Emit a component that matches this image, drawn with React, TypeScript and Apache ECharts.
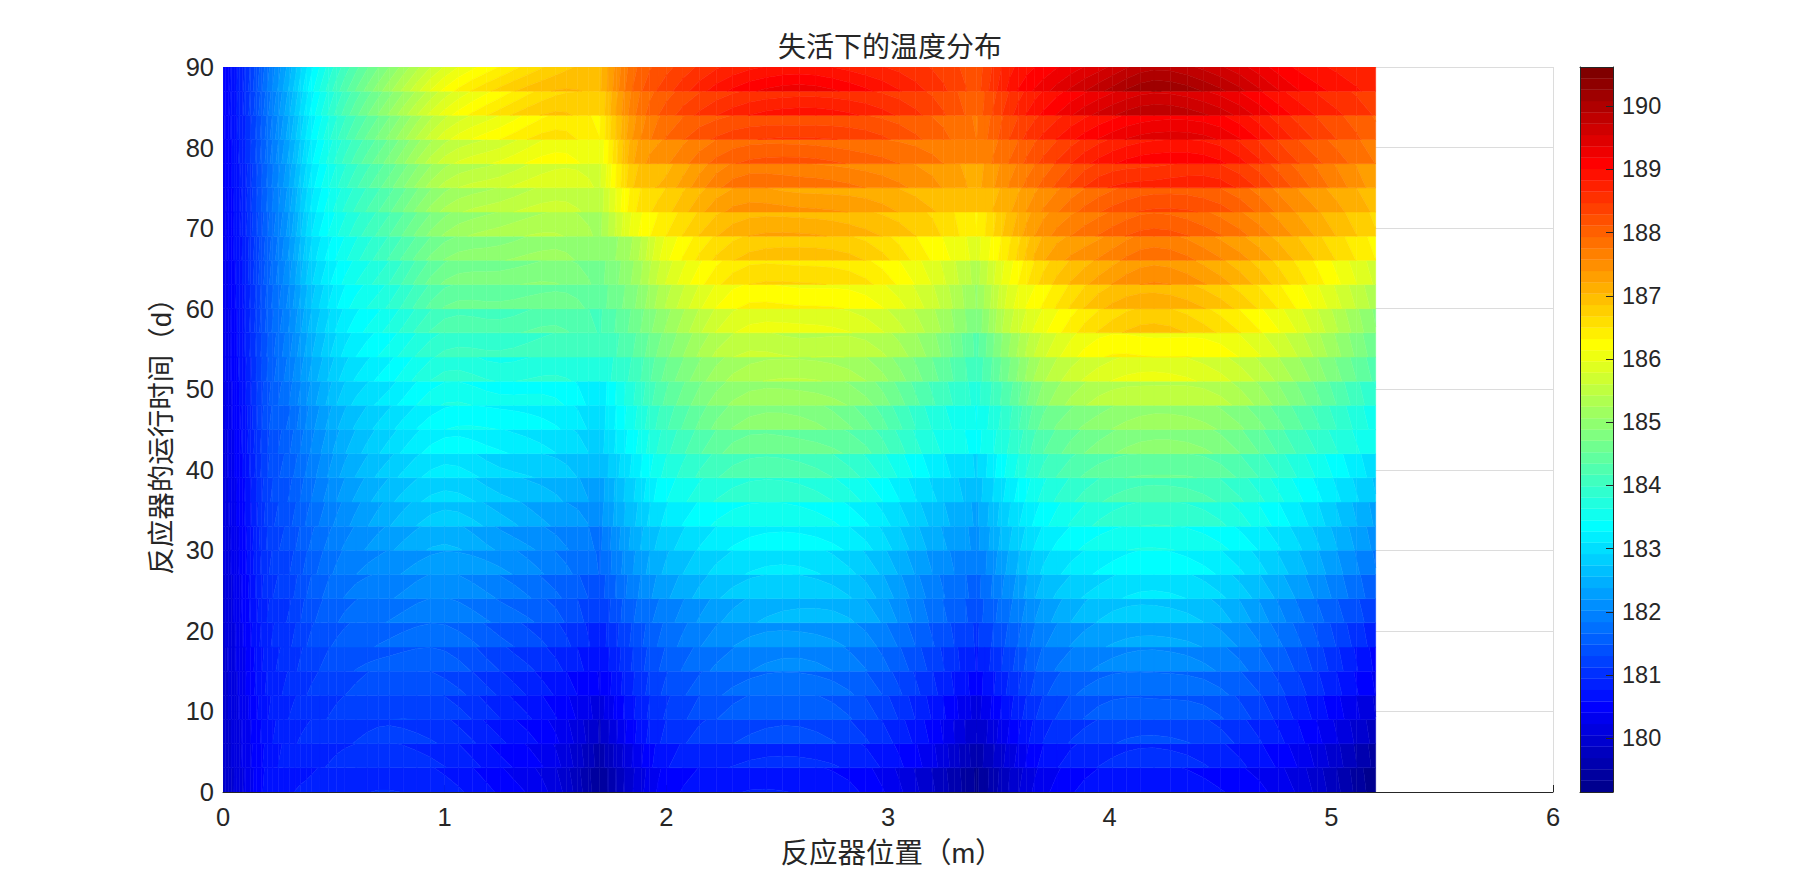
import React, { useEffect, useRef } from "react";
import * as echarts from "echarts";

const titleText = "失活下的温度分布";
const xName = "反应器位置（m）";
const yName = "反应器的运行时间（d）";
const cMin = 179.15;
const cMax = 190.62;
const colorbarTicks = [180, 181, 182, 183, 184, 185, 186, 187, 188, 189, 190];
const bandDays = 3;

// positions along the reactor (m)
const positions = [0, 0.05, 0.1, 0.2, 0.3, 0.4, 0.55, 0.75, 1.0, 1.25, 1.5, 1.7, 1.85, 2.0, 2.3, 2.6, 2.9, 3.2, 3.4, 3.55, 3.7, 3.95, 4.2, 4.5, 4.85, 5.2];
// columns where the profile has a sharp dip between catalyst beds
const dipColumns = [11, 18];

// temperature read at the lower edge of each 3-day band
const r00 = [179.85,180.05,180.25,180.65,180.75,180.8,180.9,180.95,180.85,180.55,180.15,179.35,180.05,180.5,180.75,180.75,180.55,179.9,179.3,179.9,180.35,180.7,180.75,180.6,180.2,179.2];
const r01 = [179.9,180.1,180.3,180.65,180.85,180.9,181.0,181.05,180.95,180.65,180.3,179.6,180.25,180.75,180.95,181.0,180.85,180.3,179.58,180.15,180.65,180.95,181.05,180.9,180.4,179.45];
const r02 = [179.9,180.1,180.3,180.7,180.9,181.0,181.1,181.2,181.1,180.8,180.45,179.85,180.55,181.0,181.3,181.4,181.15,180.55,179.87,180.45,180.95,181.25,181.35,181.2,180.65,179.8];
const r03 = [179.95,180.15,180.35,180.75,180.95,181.05,181.2,181.3,181.25,180.95,180.6,180.15,180.75,181.15,181.55,181.65,181.4,180.75,180.15,180.75,181.2,181.55,181.6,181.5,180.9,180.05];
const r04 = [179.95,180.15,180.4,180.8,181.0,181.15,181.3,181.45,181.4,181.1,180.75,180.4,180.95,181.35,181.7,181.8,181.6,181.0,180.5,181.0,181.45,181.75,181.8,181.7,181.2,180.4];
const r05 = [179.95,180.2,180.4,180.85,181.05,181.25,181.45,181.55,181.6,181.3,181.0,180.62,181.15,181.55,181.95,182.1,181.85,181.25,180.75,181.25,181.75,182.05,182.15,182.0,181.45,180.55];
const r06 = [180.0,180.2,180.45,180.9,181.1,181.35,181.55,181.7,181.8,181.55,181.25,180.85,181.35,181.75,182.2,182.3,182.1,181.5,181.1,181.55,182.0,182.35,182.45,182.3,181.7,180.85];
const r07 = [180.0,180.25,180.5,180.95,181.15,181.45,181.7,181.85,182.0,181.8,181.55,181.15,181.65,181.95,182.45,182.65,182.5,181.8,181.4,181.85,182.3,182.75,182.85,182.65,181.9,181.2];
const r08 = [180.0,180.25,180.5,181.05,181.25,181.55,181.85,182.0,182.2,182.0,181.7,181.4,181.95,182.35,182.8,182.9,182.65,181.95,181.6,182.15,182.65,183.0,183.15,182.95,182.35,181.55];
const r09 = [180.05,180.3,180.55,181.1,181.3,181.6,181.95,182.15,182.35,182.25,181.95,181.65,182.2,182.6,183.05,183.15,182.85,182.2,181.85,182.45,182.95,183.3,183.45,183.25,182.65,181.85];
const r10 = [180.05,180.3,180.55,181.15,181.4,181.7,182.05,182.35,182.6,182.35,182.1,181.8,182.45,182.85,183.3,183.4,183.15,182.5,182.15,182.75,183.2,183.55,183.65,183.5,182.95,182.15];
const r11 = [180.05,180.35,180.6,181.2,181.45,181.75,182.15,182.55,182.85,182.65,182.35,182.15,182.7,183.15,183.55,183.6,183.3,182.7,182.35,182.95,183.4,183.85,184.0,183.85,183.2,182.35];
const r12 = [180.1,180.35,180.6,181.25,181.5,181.85,182.3,182.7,183.0,182.8,182.6,182.3,182.9,183.45,183.9,183.95,183.6,182.95,182.65,183.2,183.7,184.15,184.3,184.15,183.5,182.75];
const r13 = [180.1,180.4,180.65,181.3,181.6,181.95,182.45,182.85,183.2,183.0,182.85,182.6,183.15,183.7,184.25,184.3,183.95,183.25,182.9,183.55,184.05,184.45,184.55,184.45,183.8,183.0];
const r14 = [180.1,180.4,180.7,181.3,181.65,182.05,182.55,183.0,183.4,183.3,183.1,182.85,183.4,183.95,184.6,184.65,184.4,183.7,183.4,183.85,184.35,184.8,185.0,184.85,184.15,183.5];
const r15 = [180.15,180.45,180.7,181.45,181.7,182.15,182.65,183.05,183.45,183.45,183.3,183.0,183.6,184.15,184.9,185.0,184.6,183.8,183.45,184.0,184.6,185.0,185.2,185.05,184.4,183.55];
const r16 = [180.15,180.45,180.75,181.45,181.85,182.3,182.85,183.2,183.65,183.55,183.5,183.15,183.8,184.4,185.1,185.2,184.95,184.2,183.75,184.35,185.0,185.5,185.6,185.5,184.8,183.85];
const r17 = [180.2,180.5,180.75,181.5,181.95,182.45,183.0,183.4,183.9,183.8,183.85,183.7,184.05,184.6,185.3,185.45,185.25,184.6,184.05,184.75,185.4,185.9,186.05,185.85,185.2,184.3];
const r18 = [180.2,180.5,180.8,181.5,182.0,182.55,183.15,183.55,184.05,184.05,184.15,184.0,184.35,184.85,185.6,185.6,185.55,185.0,184.3,185.1,185.75,186.3,186.32,186.25,185.6,184.6];
const r19 = [180.2,180.5,180.8,181.55,182.05,182.65,183.25,183.7,184.3,184.3,184.4,184.15,184.6,185.1,185.95,186.05,185.9,185.35,184.75,185.6,186.1,186.7,186.95,186.65,185.95,184.9];
const r20 = [180.25,180.55,180.8,181.55,182.1,182.75,183.4,183.85,184.55,184.6,184.65,184.45,184.85,185.45,186.3,186.35,186.25,185.7,185.05,185.9,186.35,187.0,187.2,186.95,186.3,185.35];
const r21 = [180.25,180.55,180.85,181.6,182.2,182.9,183.5,184.0,184.75,184.85,184.9,184.65,185.1,185.8,186.6,186.7,186.55,185.95,185.35,186.15,186.75,187.3,187.6,187.3,186.6,185.75];
const r22 = [180.3,180.6,180.85,181.6,182.25,183.0,183.6,184.2,184.9,185.05,185.15,184.9,185.3,186.1,186.85,187.0,186.85,186.3,185.9,186.55,187.2,187.6,187.9,187.6,187.0,186.32];
const r23 = [180.3,180.6,180.9,181.65,182.3,183.1,183.75,184.35,185.1,185.35,185.45,185.2,186.05,186.5,187.15,187.25,187.1,186.75,186.32,187.0,187.5,187.95,188.2,187.95,187.35,186.7];
const r24 = [180.3,180.6,180.9,181.7,182.35,183.15,183.85,184.5,185.3,185.55,185.7,185.5,186.45,186.8,187.45,187.45,187.35,187.05,186.9,187.2,187.6,188.1,188.33,188.2,187.55,187.0];
const r25 = [180.35,180.65,180.9,181.7,182.4,183.2,183.95,184.65,185.5,185.75,185.95,185.75,186.85,187.1,187.85,187.9,187.75,187.45,187.15,187.6,188.0,188.6,188.75,188.75,188.05,187.3];
const r26 = [180.35,180.65,180.95,181.75,182.45,183.25,184.05,184.8,185.7,186.0,186.25,186.0,187.2,187.55,188.1,188.2,188.05,187.8,187.6,187.95,188.35,188.9,189.15,189.05,188.3,187.75];
const r27 = [180.35,180.7,180.95,181.75,182.5,183.3,184.15,184.95,185.9,186.32,186.6,186.32,187.4,187.95,188.4,188.5,188.4,188.05,187.75,188.3,188.7,189.2,189.47,189.35,188.6,188.0];
const r28 = [180.4,180.7,181.0,181.8,182.55,183.35,184.25,185.1,186.05,186.6,186.9,186.7,187.7,188.2,188.75,188.95,188.8,188.4,188.0,188.6,189.05,189.6,189.9,189.65,188.95,188.45];
const r29 = [180.4,180.7,181.0,181.85,182.6,183.4,184.3,185.2,186.2,186.75,187.05,187.0,187.95,188.4,189.05,189.3,189.05,188.6,188.2,188.9,189.3,189.85,190.27,189.95,189.2,188.75];
const bands = [r00,r01,r02,r03,r04,r05,r06,r07,r08,r09,r10,r11,r12,r13,r14,r15,r16,r17,r18,r19,r20,r21,r22,r23,r24,r25,r26,r27,r28,r29];

// how far the temperature falls from the lower to the upper edge of a band
const bandFall = [0.13,0.13,0.14,0.14,0.15,0.15,0.16,0.16,0.17,0.17,0.18,0.18,0.19,0.2,0.2,0.21,0.22,0.23,0.23,0.24,0.25,0.26,0.27,0.28,0.3,0.32,0.34,0.36,0.39,0.42];
const fallAlongReactor = [0,0.05,0.1,0.2,0.3,0.4,0.55,0.75,0.95,1,0.7,0.05,0.2,0.4,0.8,1,0.8,0.35,0.05,0.3,0.55,0.9,1,0.9,0.55,0.25];

function jet64(): string[] {
  const n = 16, m = 64;
  const u: number[] = [];
  for (let i = 1; i <= n; i++) u.push(i / n);
  for (let i = 0; i < n - 1; i++) u.push(1);
  for (let i = n; i >= 1; i--) u.push(i / n);
  const rgb = Array.from({ length: m }, () => [0, 0, 0]);
  u.forEach((val, k) => {
    const g = 8 + k + 1, r = g + n, b = g - n;
    if (r <= m) rgb[r - 1][0] = val;
    rgb[g - 1][1] = val;
    if (b >= 1) rgb[b - 1][2] = val;
  });
  return rgb.map((c) => `rgb(${Math.round(c[0] * 255)},${Math.round(c[1] * 255)},${Math.round(c[2] * 255)})`);
}
const palette = jet64();
const step = (cMax - cMin) / palette.length;

type P = [number, number, number];
function clipAbove(pts: P[], lim: number, keepAbove: boolean): P[] {
  const out: P[] = [];
  const inside = (p: P) => (keepAbove ? p[2] >= lim : p[2] <= lim);
  for (let i = 0; i < pts.length; i++) {
    const a = pts[i], b = pts[(i + 1) % pts.length];
    const ia = inside(a), ib = inside(b);
    if (ia) out.push(a);
    if (ia !== ib) {
      const t = (lim - a[2]) / (b[2] - a[2]);
      out.push([a[0] + (b[0] - a[0]) * t, a[1] + (b[1] - a[1]) * t, lim]);
    }
  }
  return out;
}

// one item per band and column: [x0, x1, t0, t1, row, column]
const cellData: number[][] = [];
bands.forEach((_, r) => {
  for (let c = 0; c < positions.length - 1; c++) {
    cellData.push([positions[c], positions[c + 1], r * bandDays, (r + 1) * bandDays, r, c]);
  }
});
const barData: number[][] = palette.map((_, i) => [0, 1, cMin + i * step, cMin + (i + 1) * step, i]);

// smooth drawing of an edge between two columns, like a line series' smooth option; sharp at the dips
function slopeAt(arr: number[], i: number, seg: number): number {
  const last = arr.length - 1;
  if (i === 0 || i === last || dipColumns.includes(i)) {
    return (arr[seg + 1] - arr[seg]) / (positions[seg + 1] - positions[seg]);
  }
  return (arr[i + 1] - arr[i - 1]) / (positions[i + 1] - positions[i - 1]);
}
function edgeAt(arr: number[], seg: number, u: number): number {
  const h = positions[seg + 1] - positions[seg];
  const m0 = slopeAt(arr, seg, seg) * h, m1 = slopeAt(arr, seg + 1, seg) * h;
  const u2 = u * u, u3 = u2 * u;
  return (2 * u3 - 3 * u2 + 1) * arr[seg] + (u3 - 2 * u2 + u) * m0 + (-2 * u3 + 3 * u2) * arr[seg + 1] + (u3 - u2) * m1;
}
const DRAW_STEPS = 4;

const renderCell = (_: any, api: any) => {
  const x0 = api.value(0) as number, x1 = api.value(1) as number;
  const y0 = api.value(2) as number, y1 = api.value(3) as number;
  const r = api.value(4) as number, c = api.value(5) as number;
  const row = bands[r];
  const children: any[] = [];
  for (let s = 0; s < DRAW_STEPS; s++) {
    const u0 = s / DRAW_STEPS, u1 = (s + 1) / DRAW_STEPS;
    const xa = x0 + (x1 - x0) * u0, xb = x0 + (x1 - x0) * u1;
    const a = edgeAt(row, c, u0), b = edgeAt(row, c, u1);
    const d0 = a - bandFall[r] * edgeAt(fallAlongReactor, c, u0);
    const d1 = b - bandFall[r] * edgeAt(fallAlongReactor, c, u1);
    const pts: P[] = [[xa, y0, a], [xb, y0, b], [xb, y1, d1], [xa, y1, d0]];
    const lo = Math.min(a, b, d0, d1), hi = Math.max(a, b, d0, d1);
    const k0 = Math.max(0, Math.floor((lo - cMin) / step));
    const k1 = Math.min(palette.length - 1, Math.floor((hi - cMin) / step));
    for (let k = k0; k <= k1; k++) {
      let poly = clipAbove(pts, k === 0 ? -1e9 : cMin + k * step, true);
      if (poly.length) poly = clipAbove(poly, k === palette.length - 1 ? 1e9 : cMin + (k + 1) * step, false);
      if (poly.length < 3) continue;
      children.push({
        type: "polygon",
        shape: { points: poly.map((p) => api.coord([p[0], p[1]])) },
        style: { fill: palette[k], stroke: palette[k], lineWidth: 0.5 },
      });
    }
  }
  return { type: "group", children };
};

const renderBar = (_: any, api: any) => {
  const p0 = api.coord([api.value(0), api.value(2)]);
  const p1 = api.coord([api.value(1), api.value(3)]);
  return {
    type: "rect",
    shape: { x: p0[0], y: p1[1], width: p1[0] - p0[0], height: p0[1] - p1[1] },
    style: { fill: palette[api.value(4) as number], stroke: palette[api.value(4) as number], lineWidth: 0.3 },
  };
};

const FONT = '"Liberation Sans", "Noto Sans CJK SC", sans-serif';
const INK = "#262626";

export default function App() {
  const ref = useRef<HTMLDivElement>(null);
  useEffect(() => {
    const chart = echarts.init(ref.current!, undefined, { renderer: "svg" });
    chart.setOption({
      animation: false,
      backgroundColor: "#ffffff",
      title: {
        text: titleText,
        left: 885,
        top: 28,
        textAlign: "center",
        textStyle: { fontFamily: FONT, fontSize: 28, fontWeight: "normal", color: INK },
      },
      grid: [
        { left: 223, top: 67, width: 1330, height: 725 },
        { left: 1580, top: 67, width: 33, height: 725 },
      ],
      xAxis: [
        {
          type: "value", gridIndex: 0, min: 0, max: 6, interval: 1,
          name: xName, nameLocation: "middle", nameGap: 47,
          nameTextStyle: { fontFamily: FONT, fontSize: 28.5, color: INK, padding: [0, 0, 0, 8] },
          axisLine: { show: true, onZero: false, lineStyle: { color: INK, width: 1 } },
          axisTick: { show: true, inside: true, length: 7, lineStyle: { color: INK } },
          axisLabel: { fontFamily: FONT, fontSize: 25.5, color: INK, margin: 12, showMinLabel: true, showMaxLabel: true },
          splitLine: { show: true, lineStyle: { color: "#dcdcdc", width: 1 } },
        },
        {
          type: "value", gridIndex: 1, min: 0, max: 1, z: 5, position: "bottom",
          axisLine: { show: true, onZero: false, lineStyle: { color: INK, width: 1 } },
          axisTick: { show: false }, axisLabel: { show: false }, splitLine: { show: false },
        },
        {
          type: "value", gridIndex: 1, min: 0, max: 1, z: 5, position: "top",
          axisLine: { show: true, onZero: false, lineStyle: { color: INK, width: 1 } },
          axisTick: { show: false }, axisLabel: { show: false }, splitLine: { show: false },
        },
      ],
      yAxis: [
        {
          type: "value", gridIndex: 0, min: 0, max: 90, interval: 10,
          name: yName, nameLocation: "middle", nameGap: 41,
          nameTextStyle: { fontFamily: FONT, fontSize: 27.5, color: INK },
          axisLine: { show: false }, axisTick: { show: false },
          axisLabel: { fontFamily: FONT, fontSize: 25.5, color: INK, margin: 9, showMinLabel: true, showMaxLabel: true },
          splitLine: { show: true, lineStyle: { color: "#dcdcdc", width: 1 } },
        },
        {
          type: "value", gridIndex: 1, min: cMin, max: cMax, position: "right", z: 5,
          axisLine: { show: true, onZero: false, lineStyle: { color: INK, width: 1 } },
          axisTick: { show: true, inside: true, length: 7, lineStyle: { color: INK }, customValues: colorbarTicks },
          axisLabel: { fontFamily: FONT, fontSize: 23.5, color: INK, margin: 9, customValues: colorbarTicks },
          splitLine: { show: false },
        },
        {
          type: "value", gridIndex: 1, min: cMin, max: cMax, position: "left", z: 5,
          axisLine: { show: true, onZero: false, lineStyle: { color: INK, width: 1 } },
          axisTick: { show: false }, axisLabel: { show: false }, splitLine: { show: false },
        },
      ],
      series: [
        {
          type: "custom", xAxisIndex: 0, yAxisIndex: 0, coordinateSystem: "cartesian2d",
          data: cellData, renderItem: renderCell, clip: true, silent: true, z: 2, progressive: 0,
          encode: { x: [0, 1], y: [2, 3] },
        },
        {
          type: "custom", xAxisIndex: 1, yAxisIndex: 1, coordinateSystem: "cartesian2d",
          data: barData, renderItem: renderBar, clip: true, silent: true, z: 2, progressive: 0,
          encode: { x: [0, 1], y: [2, 3] },
        },
      ],
    });
    return () => chart.dispose();
  }, []);
  return <div ref={ref} style={{ position: "absolute", left: 0, top: 0, width: 1807, height: 890 }} />;
}
